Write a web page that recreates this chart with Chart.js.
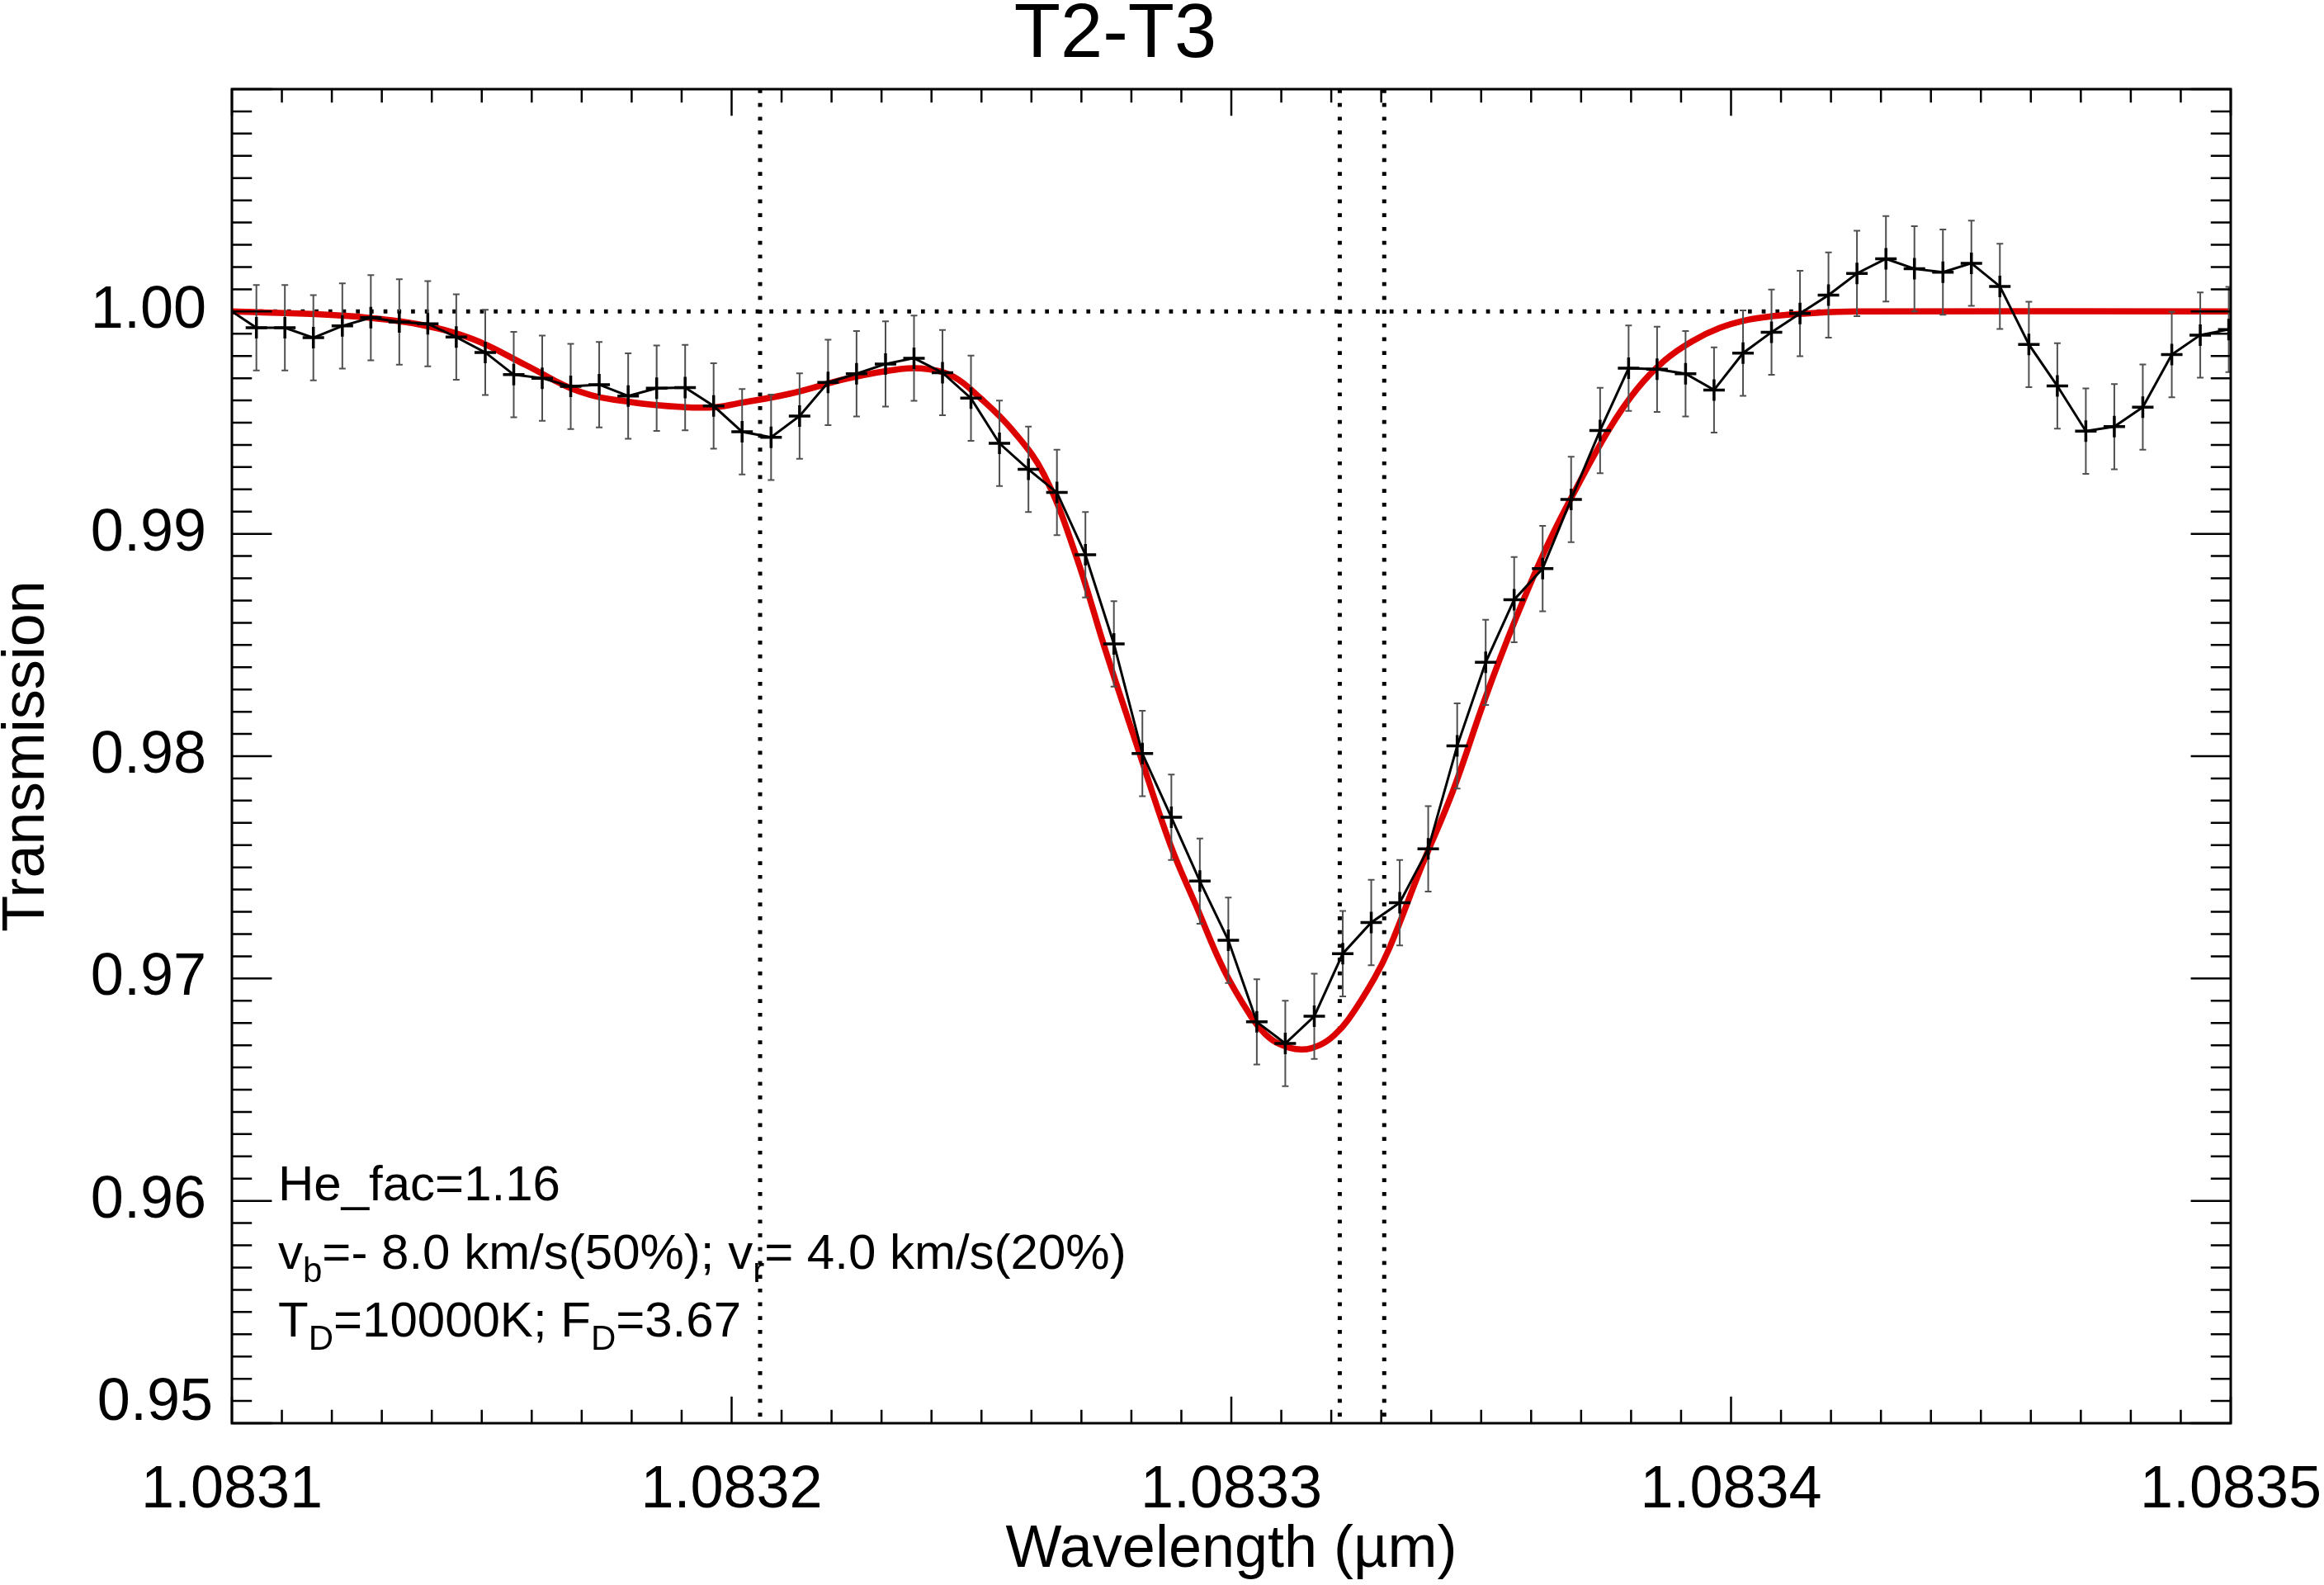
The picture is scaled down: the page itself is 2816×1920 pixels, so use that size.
<!DOCTYPE html>
<html>
<head>
<meta charset="utf-8">
<script src="https://cdn.jsdelivr.net/npm/chart.js@4.4.0/dist/chart.umd.min.js"></script>
<style>
  html, body { margin: 0; padding: 0; background: #fff; }
  #wrap { width: 2816px; height: 1920px; }
</style>
</head>
<body>
<div id="wrap"><canvas id="chart" width="2816" height="1920"></canvas></div>
<script>
const FONT = "'Liberation Sans', Arial, Helvetica, sans-serif";

// observed transmission (first point sits just left of the axis and gets clipped)
const wavelength = [
  1.0830992, 1.0831049, 1.0831106, 1.0831163, 1.0831221, 1.0831278, 1.0831335, 1.0831392,
  1.0831449, 1.0831507, 1.0831564, 1.0831621, 1.0831678, 1.0831735, 1.0831793, 1.0831850,
  1.0831907, 1.0831964, 1.0832021, 1.0832079, 1.0832136, 1.0832193, 1.0832250, 1.0832308,
  1.0832365, 1.0832422, 1.0832479, 1.0832536, 1.0832594, 1.0832651, 1.0832708, 1.0832765,
  1.0832822, 1.0832880, 1.0832937, 1.0832994, 1.0833051, 1.0833108, 1.0833166, 1.0833223,
  1.0833280, 1.0833337, 1.0833394, 1.0833452, 1.0833509, 1.0833566, 1.0833623, 1.0833680,
  1.0833738, 1.0833795, 1.0833852, 1.0833909, 1.0833966, 1.0834024, 1.0834081, 1.0834138,
  1.0834195, 1.0834252, 1.0834310, 1.0834367, 1.0834424, 1.0834481, 1.0834538, 1.0834596,
  1.0834653, 1.0834710, 1.0834767, 1.0834824, 1.0834882, 1.0834939, 1.0834996
];
const transmission = [
  1.00012, 0.99927, 0.99927, 0.99882, 0.99935, 0.99972, 0.99953, 0.99945,
  0.99885, 0.99816, 0.99716, 0.99700, 0.99663, 0.99671, 0.99620, 0.99655,
  0.99658, 0.99575, 0.99459, 0.99434, 0.99530, 0.99681, 0.99720, 0.99764,
  0.99790, 0.99725, 0.99610, 0.99407, 0.99290, 0.99186, 0.98906, 0.98505,
  0.98012, 0.97725, 0.97438, 0.97172, 0.96805, 0.96708, 0.96830, 0.97112,
  0.97252, 0.97341, 0.97583, 0.98046, 0.98422, 0.98704, 0.98844, 0.99155,
  0.99465, 0.99745, 0.99740, 0.99720, 0.99647, 0.99813, 0.99907, 0.99991,
  1.00074, 1.00171, 1.00237, 1.00192, 1.00177, 1.00217, 1.00113, 0.99852,
  0.99665, 0.99462, 0.99482, 0.99570, 0.99806, 0.99894, 0.99919
];
const errBar = 0.00192;

// model fit (red)
const modelWavelength = [
  1.0831000, 1.0831168, 1.0831273, 1.0831379, 1.0831484, 1.0831589, 1.0831694, 1.0831800,
  1.0831905, 1.0831968, 1.0832011, 1.0832116, 1.0832233, 1.0832338, 1.0832391, 1.0832444,
  1.0832498, 1.0832562, 1.0832625, 1.0832688, 1.0832751, 1.0832814, 1.0832878, 1.0832931,
  1.0832986, 1.0833041, 1.0833068, 1.0833096, 1.0833140, 1.0833178, 1.0833206, 1.0833234,
  1.0833286, 1.0833317, 1.0833380, 1.0833443, 1.0833507, 1.0833570, 1.0833633, 1.0833684,
  1.0833756, 1.0833811, 1.0833867, 1.0833922, 1.0833977, 1.0834032, 1.0834087, 1.0834141,
  1.0834252, 1.0835000
];
const modelTransmission = [
  1.00000, 0.99988, 0.99972, 0.99940, 0.99874, 0.99758, 0.99641, 0.99592,
  0.99570, 0.99570, 0.99586, 0.99630, 0.99699, 0.99741, 0.99741, 0.99707,
  0.99610, 0.99466, 0.99267, 0.98910, 0.98456, 0.98029, 0.97602, 0.97320,
  0.97035, 0.96824, 0.96750, 0.96706, 0.96681, 0.96702, 0.96745, 0.96815,
  0.97000, 0.97140, 0.97500, 0.97841, 0.98254, 0.98623, 0.98951, 0.99178,
  0.99470, 0.99649, 0.99780, 0.99866, 0.99926, 0.99962, 0.99980, 0.99990,
  1.00000, 1.00000
];

// He I triplet positions (vertical dotted lines)
const heLines = [1.0832057, 1.0833217, 1.0833306];
const xTicks = [1.0831, 1.0832, 1.0833, 1.0834, 1.0835];
const yTicks = [0.95, 0.96, 0.97, 0.98, 0.99, 1.00];

// parameter text, each line as [text, isSubscript] pieces
const notes = [
  [['He_fac=1.16', false]],
  [['v', false], ['b', true], ['=- 8.0 km/s(50%); v', false], ['r', true], ['= 4.0 km/s(20%)', false]],
  [['T', false], ['D', true], ['=10000K; F', false], ['D', true], ['=3.67', false]]
];

const idlPlot = {
  id: 'idlPlot',
  beforeDatasetsDraw(chart) {
    const { ctx, chartArea: a, scales: { x, y } } = chart;
    ctx.save();
    ctx.beginPath();
    ctx.rect(a.left, a.top, a.right - a.left, a.bottom - a.top);
    ctx.clip();
    ctx.strokeStyle = '#000';
    ctx.lineWidth = 5;
    ctx.setLineDash([4.7, 12]);
    const y1 = y.getPixelForValue(1.0);
    ctx.beginPath();
    ctx.moveTo(a.left, y1);
    ctx.lineTo(a.right, y1);
    ctx.stroke();
    heLines.forEach(w => {
      const px = x.getPixelForValue(w);
      ctx.beginPath();
      ctx.moveTo(px, a.top);
      ctx.lineTo(px, a.bottom);
      ctx.stroke();
    });
    ctx.restore();
  },
  afterDatasetDraw(chart, args) {
    // error bars go between the red model and the black data line
    if (args.index !== 1) return;
    const { ctx, chartArea: a, scales: { x, y } } = chart;
    ctx.save();
    ctx.beginPath();
    ctx.rect(a.left, a.top, a.right - a.left, a.bottom - a.top);
    ctx.clip();
    ctx.strokeStyle = 'rgb(80,80,80)';
    ctx.lineWidth = 2;
    for (let i = 1; i < wavelength.length; i++) {
      const px = x.getPixelForValue(wavelength[i]);
      const top = y.getPixelForValue(transmission[i] + errBar);
      const bot = y.getPixelForValue(transmission[i] - errBar);
      ctx.beginPath();
      ctx.moveTo(px, top); ctx.lineTo(px, bot);
      ctx.moveTo(px - 4, top); ctx.lineTo(px + 4, top);
      ctx.moveTo(px - 4, bot); ctx.lineTo(px + 4, bot);
      ctx.stroke();
    }
    ctx.restore();
  },
  afterDraw(chart) {
    const { ctx, chartArea: a, scales: { x, y } } = chart;
    const w = a.right - a.left, h = a.bottom - a.top;
    ctx.save();
    ctx.strokeStyle = '#000';
    ctx.lineWidth = 2.5;
    ctx.beginPath();
    // x ticks, major every 1e-4, minor every 1e-5, inward on bottom and top
    for (let k = 0; k <= 40; k++) {
      const px = x.getPixelForValue(xTicks[0] + k * 0.00001);
      const len = k % 10 === 0 ? 0.02 * h : 0.01 * h;
      ctx.moveTo(px, a.bottom); ctx.lineTo(px, a.bottom - len);
      ctx.moveTo(px, a.top); ctx.lineTo(px, a.top + len);
    }
    // y ticks, major every 0.01, minor every 0.001, inward on left and right
    for (let k = 0; k <= 60; k++) {
      const py = y.getPixelForValue(yTicks[0] + k * 0.001);
      const len = k % 10 === 0 ? 0.02 * w : 0.01 * w;
      ctx.moveTo(a.left, py); ctx.lineTo(a.left + len, py);
      ctx.moveTo(a.right, py); ctx.lineTo(a.right - len, py);
    }
    ctx.stroke();
    ctx.lineWidth = 3;
    ctx.strokeRect(a.left, a.top, w, h);

    // lowest y label sits a bit above its tick
    ctx.fillStyle = '#000';
    ctx.font = `72px ${FONT}`;
    ctx.textAlign = 'right';
    ctx.textBaseline = 'middle';
    ctx.fillText(yTicks[0].toFixed(2), a.left - 23, y.getPixelForValue(yTicks[0]) - 24);

    // parameter notes with subscripts
    ctx.textAlign = 'left';
    ctx.textBaseline = 'alphabetic';
    notes.forEach((line, i) => {
      let cx = a.left + 56;
      const base = a.top + 1346 + i * 82.5;
      line.forEach(([txt, sub]) => {
        ctx.font = sub ? `42px ${FONT}` : `60px ${FONT}`;
        ctx.fillText(txt, cx, sub ? base + 16 : base);
        cx += ctx.measureText(txt).width;
      });
    });
    ctx.restore();
  }
};

new Chart(document.getElementById('chart'), {
  type: 'line',
  data: {
    datasets: [
      {
        label: 'data',
        data: wavelength.map((v, i) => ({ x: v, y: transmission[i] })),
        borderColor: '#000',
        borderWidth: 3,
        pointStyle: 'cross',
        pointRadius: c => (c.dataIndex === 0 ? 0 : 13),
        pointBorderWidth: 3.5,
        pointBorderColor: '#000',
        pointBackgroundColor: '#000',
        tension: 0,
        fill: false
      },
      {
        label: 'model',
        data: modelWavelength.map((v, i) => ({ x: v, y: modelTransmission[i] })),
        borderColor: 'rgb(220,0,0)',
        borderWidth: 7.5,
        pointRadius: 0,
        tension: 0.4,
        fill: false
      }
    ]
  },
  options: {
    responsive: false,
    animation: false,
    devicePixelRatio: 1,
    layout: { padding: { top: 0, right: 113, bottom: 0, left: 0 } },
    plugins: {
      legend: { display: false },
      tooltip: { enabled: false },
      title: {
        display: true,
        text: 'T2-T3',
        color: '#000',
        font: { family: FONT, size: 92, weight: 'normal', lineHeight: 0.95 },
        padding: { top: 0, bottom: 20.6 }
      }
    },
    scales: {
      x: {
        type: 'linear',
        min: 1.0831,
        max: 1.0835,
        afterBuildTicks: s => { s.ticks = xTicks.map(v => ({ value: v })); },
        afterFit: s => { s.height = 196; s.paddingLeft = 0; s.paddingRight = 0; },
        grid: { display: false },
        border: { display: false },
        ticks: {
          color: '#000',
          font: { family: FONT, size: 72 },
          padding: 31,
          maxRotation: 0,
          autoSkip: false,
          callback: v => v.toFixed(4)
        },
        title: {
          display: true,
          text: 'Wavelength (µm)',
          color: '#000',
          font: { family: FONT, size: 72, lineHeight: 1 },
          padding: { top: 0, bottom: 6 }
        }
      },
      y: {
        type: 'linear',
        min: 0.95,
        max: 1.01,
        afterBuildTicks: s => { s.ticks = yTicks.map(v => ({ value: v })); },
        afterFit: s => { s.width = 281; s.paddingTop = 0; s.paddingBottom = 0; },
        grid: { display: false },
        border: { display: false },
        ticks: {
          color: '#000',
          font: { family: FONT, size: 72 },
          padding: 23,
          callback: v => (v === yTicks[0] ? '' : v.toFixed(2))
        },
        title: {
          display: true,
          text: 'Transmission',
          color: '#000',
          font: { family: FONT, size: 72, lineHeight: 0.92 },
          padding: { top: 0, bottom: 0 }
        }
      }
    }
  },
  plugins: [idlPlot]
});
</script>
</body>
</html>
